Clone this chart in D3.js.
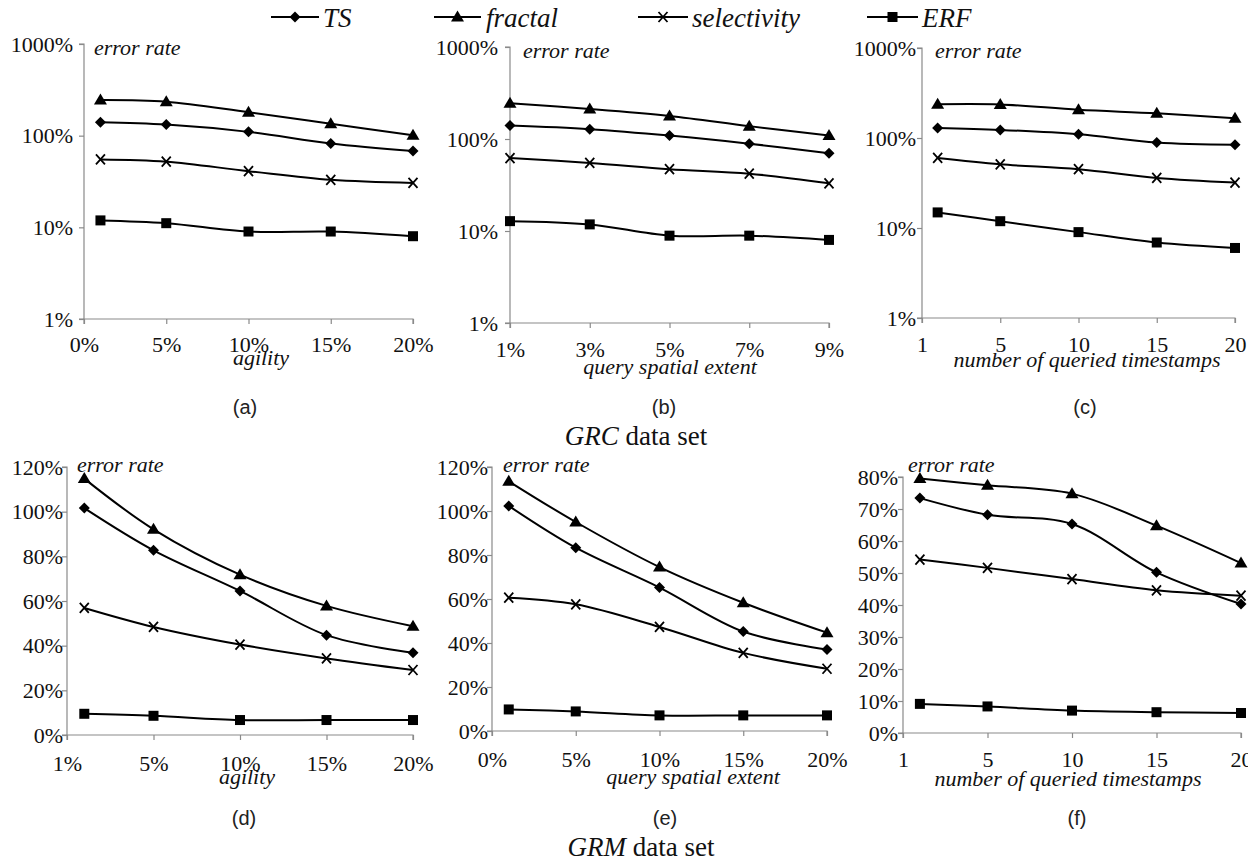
<!DOCTYPE html>
<html><head><meta charset="utf-8">
<script src="https://cdn.jsdelivr.net/npm/d3@7"></script>
<style>body{margin:0;background:#fff} svg{display:block}</style>
</head><body><svg id="c" width="1248" height="864"></svg>
<script>
// ---------- data ----------
const seriesNames = ["TS", "fractal", "selectivity", "ERF"];

// (a) GRC, agility
const xA = [1, 5, 10, 15, 20];
const tsA = [140, 132, 110, 82, 68];
const fractalA = [245, 235, 180, 135, 101];
const selA = [55, 52, 41, 33, 30.5];
const erfA = [11.9, 11.1, 9.0, 9.0, 8.0];
const xTicksA = [0, 5, 10, 15, 20];
const xLabelsA = ["0%", "5%", "10%", "15%", "20%"];

// (b) GRC, query spatial extent
const xB = [1, 3, 5, 7, 9];
const tsB = [140, 128, 109, 89, 70];
const fractalB = [244, 212, 178, 138, 109];
const selB = [62, 55, 47, 42, 33];
const erfB = [12.8, 11.8, 8.9, 8.9, 8.0];
const xTicksB = [1, 3, 5, 7, 9];
const xLabelsB = ["1%", "3%", "5%", "7%", "9%"];

// (c) GRC, number of queried timestamps
const xC = [1, 5, 10, 15, 20];
const tsC = [129, 123, 110, 89, 84];
const fractalC = [237, 236, 206, 188, 166];
const selC = [60, 51, 45, 36, 32];
const erfC = [14.9, 11.9, 9.0, 6.9, 6.0];
const xTicksC = [0, 5, 10, 15, 20];
const xLabelsC = ["1", "5", "10", "15", "20"];

const logTicks = [1, 10, 100, 1000];
const logLabels = ["1%", "10%", "100%", "1000%"];

// (d) GRM, agility
const xD = [1, 5, 10, 15, 20];
const tsD = [101.6, 82.7, 64.5, 44.7, 36.8];
const fractalD = [114.8, 92.1, 71.8, 57.8, 48.7];
const selD = [56.9, 48.4, 40.5, 34.3, 29.1];
const erfD = [9.5, 8.6, 6.7, 6.7, 6.7];
const xTicksD = [0, 5, 10, 15, 20];
const xLabelsD = ["1%", "5%", "10%", "15%", "20%"];
const yTicksD = [0, 20, 40, 60, 80, 100, 120];

// (e) GRM, query spatial extent
const xE = [1, 5, 10, 15, 20];
const tsE = [102.3, 83.3, 65.2, 45.2, 37];
const fractalE = [113.5, 95, 74.5, 58.3, 44.7];
const selE = [60.6, 57.6, 47.3, 35.5, 28.3];
const erfE = [9.8, 8.9, 7.1, 7.1, 7.1];
const xTicksE = [0, 5, 10, 15, 20];
const xLabelsE = ["0%", "5%", "10%", "15%", "20%"];
const yTicksE = [0, 20, 40, 60, 80, 100, 120];

// (f) GRM, number of queried timestamps
const xF = [1, 5, 10, 15, 20];
const tsF = [73.4, 68.2, 65.3, 50.2, 40.3];
const fractalF = [79.5, 77.4, 74.8, 64.8, 53.1];
const selF = [54.2, 51.6, 48.1, 44.6, 42.9];
const erfF = [9.1, 8.3, 7.0, 6.5, 6.25];
const xTicksF = [0, 5, 10, 15, 20];
const xLabelsF = ["1", "5", "10", "15", "20"];
const yTicksF = [0, 10, 20, 30, 40, 50, 60, 70, 80];

const xTitles = ["agility", "query spatial extent", "number of queried timestamps"];
const captions = ["(a)", "(b)", "(c)", "(d)", "(e)", "(f)"];
const dataSetNames = ["GRC", "GRM"];

// ---------- drawing ----------
const svg = d3.select("#c");
const SERIF = "Liberation Serif, Times New Roman, serif";
const SANS = "Liberation Sans, Arial, sans-serif";
const AXIS = "#8a8a8a";

function marker(g, kind, x, y) {
  if (kind === "TS") {
    g.append("path").attr("d", `M${x},${y-5.5}L${x+5.5},${y}L${x},${y+5.5}L${x-5.5},${y}Z`).attr("fill", "#000");
  } else if (kind === "fractal") {
    g.append("path").attr("d", `M${x},${y-6.5}L${x+6.5},${y+4.5}L${x-6.5},${y+4.5}Z`).attr("fill", "#000");
  } else if (kind === "selectivity") {
    g.append("path").attr("d", `M${x-4.5},${y-5}L${x+4.5},${y+5}M${x+4.5},${y-5}L${x-4.5},${y+5}`)
      .attr("stroke", "#000").attr("stroke-width", 1.8).attr("fill", "none");
  } else {
    g.append("rect").attr("x", x-5).attr("y", y-5).attr("width", 10).attr("height", 10).attr("fill", "#000");
  }
}

const panels = [
  {x: xA, s: [tsA, fractalA, selA, erfA], xt: xTicksA, xl: xLabelsA, xd: [0,20], log: true,
   L: 84, R: 413, T: 44, B: 319, gap: 11, xpad: 12, title: 0, tx: 261, ty: 365, ex: 94, ey: 55, cap: 0, cx: 245, cy: 407},
  {x: xB, s: [tsB, fractalB, selB, erfB], xt: xTicksB, xl: xLabelsB, xd: [1,9], log: true,
   L: 510, R: 829, T: 47, B: 323, gap: 12, xpad: 13, title: 1, tx: 670, ty: 374, ex: 523, ey: 58, cap: 1, cx: 664, cy: 407},
  {x: xC, s: [tsC, fractalC, selC, erfC], xt: xTicksC, xl: xLabelsC, xd: [0,20], log: true,
   L: 922, R: 1235, T: 48, B: 318, gap: 6, xpad: 13, title: 2, tx: 1087, ty: 367, ex: 935, ey: 58, cap: 2, cx: 1085, cy: 407},
  {x: xD, s: [tsD, fractalD, selD, erfD], xt: xTicksD, xl: xLabelsD, xd: [0,20], log: false, yt: yTicksD, yd: [0,120],
   L: 67, R: 413, T: 467, B: 735, gap: 4, xpad: 15, title: 0, tx: 247, ty: 784, ex: 77, ey: 472, cap: 3, cx: 244, cy: 818},
  {x: xE, s: [tsE, fractalE, selE, erfE], xt: xTicksE, xl: xLabelsE, xd: [0,20], log: false, yt: yTicksE, yd: [0,120],
   L: 492, R: 827, T: 467, B: 731, gap: 4, xpad: 15, title: 1, tx: 693, ty: 784, ex: 503, ey: 472, cap: 4, cx: 665, cy: 818},
  {x: xF, s: [tsF, fractalF, selF, erfF], xt: xTicksF, xl: xLabelsF, xd: [0,20], log: false, yt: yTicksF, yd: [0,80],
   L: 903, R: 1241, T: 477, B: 733, gap: 5, xpad: 13, title: 2, tx: 1068, ty: 786, ex: 908, ey: 472, cap: 5, cx: 1077, cy: 818}
];

panels.forEach(p => {
  const g = svg.append("g");
  const x = d3.scaleLinear().domain(p.xd).range([p.L, p.R]);
  const y = p.log ? d3.scaleLog().domain([1, 1000]).range([p.B, p.T])
                  : d3.scaleLinear().domain(p.yd).range([p.B, p.T]);
  const yAxis = p.log
    ? d3.axisLeft(y).tickValues(logTicks).tickFormat((d, i) => logLabels[i])
    : d3.axisLeft(y).tickValues(p.yt).tickFormat(d => d + "%");
  yAxis.tickSize(5).tickPadding(Math.max(p.gap - 5, -1));
  const ya = g.append("g").attr("transform", `translate(${p.L},0)`).call(yAxis);
  const xAxis = d3.axisBottom(x).tickValues(p.xt).tickFormat((d, i) => p.xl[i]).tickSize(5).tickPadding(p.xpad);
  const xa = g.append("g").attr("transform", `translate(0,${p.B})`).call(xAxis);
  [ya, xa].forEach(a => {
    a.attr("font-family", SERIF).attr("font-size", 22);
    a.select(".domain").attr("stroke", AXIS).attr("stroke-width", 1.2);
    a.selectAll(".tick line").attr("stroke", AXIS).attr("stroke-width", 1.2);
    a.selectAll(".tick text").style("font-family", SERIF).style("font-size", "22px").attr("fill", "#111");
  });
  ya.select(".domain").attr("d", `M-5,${p.B}H0V${p.T}H-5`);
  xa.select(".domain").attr("d", `M${p.L},5V0H${p.R}V5`);

  const line = d3.line().x((d, i) => x(p.x[i])).y(d => y(d)).curve(d3.curveCatmullRom.alpha(0.5));
  p.s.forEach((vals, k) => {
    g.append("path").attr("d", line(vals)).attr("fill", "none").attr("stroke", "#000").attr("stroke-width", 2);
    vals.forEach((v, i) => marker(g, seriesNames[k], x(p.x[i]), y(v)));
  });

  g.append("text").attr("x", p.ex).attr("y", p.ey).text("error rate")
    .style("font-family", SERIF).attr("font-style", "italic").attr("font-size", 22).attr("fill", "#111");
  g.append("text").attr("x", p.tx).attr("y", p.ty).attr("text-anchor", "middle").text(xTitles[p.title])
    .style("font-family", SERIF).attr("font-style", "italic").attr("font-size", 22).attr("fill", "#111");
  g.append("text").attr("x", p.cx).attr("y", p.cy).attr("dy", "0.35em").attr("text-anchor", "middle").text(captions[p.cap])
    .style("font-family", SANS).attr("font-size", 20).attr("fill", "#222");
});

// data-set captions
[[636, 445, 0], [641, 856, 1]].forEach(([cx, cy, k]) => {
  const t = svg.append("text").attr("x", cx).attr("y", cy).attr("text-anchor", "middle")
    .style("font-family", SERIF).attr("font-size", 27).attr("fill", "#111");
  t.append("tspan").attr("font-style", "italic").text(dataSetNames[k]);
  t.append("tspan").text(" data set");
});

// legend
const legendPos = [[271, 319, 323], [434, 481, 486], [638, 688, 692], [867, 918, 922]];
const lg = svg.append("g");
seriesNames.forEach((name, k) => {
  const [x1, x2, tx] = legendPos[k];
  lg.append("line").attr("x1", x1).attr("x2", x2).attr("y1", 17).attr("y2", 17).attr("stroke", "#000").attr("stroke-width", 2.2);
  marker(lg, name, (x1 + x2) / 2, 17);
  lg.append("text").attr("x", tx).attr("y", 27).text(name)
    .style("font-family", SERIF).attr("font-style", "italic").attr("font-size", 27).attr("fill", "#111");
});
</script></body></html>
